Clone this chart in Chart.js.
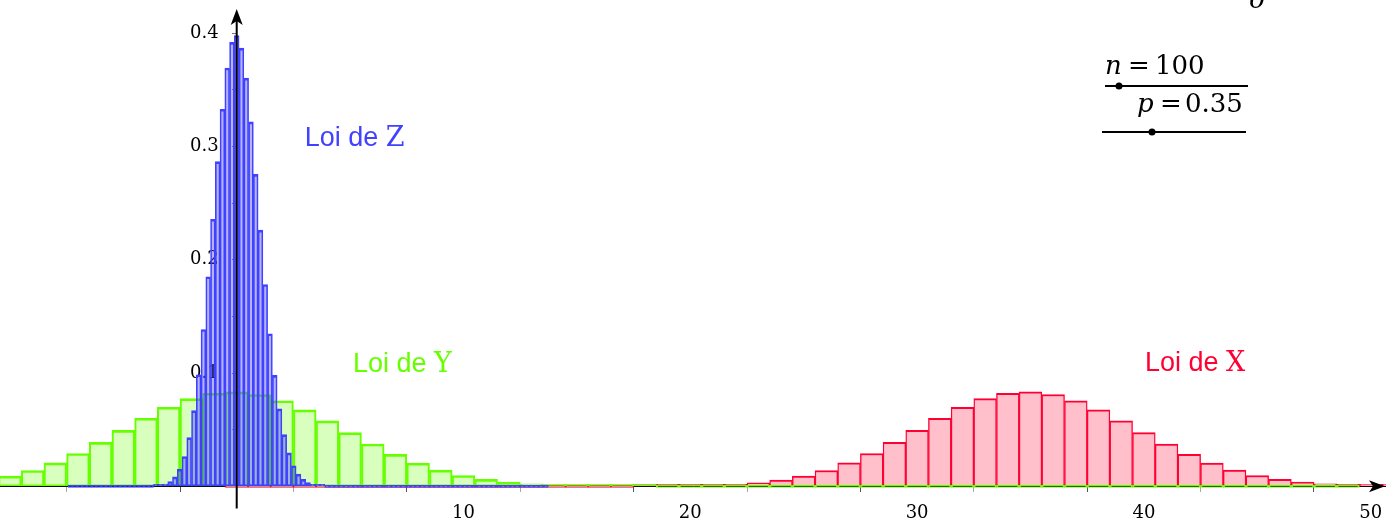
<!DOCTYPE html>
<html>
<head>
<meta charset="utf-8">
<script src="https://cdn.jsdelivr.net/npm/chart.js@4.4.1/dist/chart.umd.min.js"></script>
<style>
  html, body { margin: 0; padding: 0; background: #fff; }
  #c { display: block; }
</style>
</head>
<body>
<canvas id="c" width="1386" height="520"></canvas>
<script>
// values of k with a visible bar
const kValues = [18, 19, 20, 21, 22, 23, 24, 25, 26, 27, 28, 29, 30, 31, 32, 33, 34, 35,
  36, 37, 38, 39, 40, 41, 42, 43, 44, 45, 46, 47, 48, 49, 50, 51, 52, 53];

// P(X = k) (also the heights of the green bars)
const probX = [0.00009, 0.0002, 0.00044, 0.0009, 0.00175, 0.00319, 0.00551, 0.00901, 0.014,
  0.02066, 0.02901, 0.03878, 0.04942, 0.06009, 0.06977, 0.07741, 0.08214, 0.0834,
  0.08109, 0.07553, 0.06743, 0.05772, 0.0474, 0.03735, 0.02825, 0.02052, 0.01431,
  0.00959, 0.00618, 0.00382, 0.00227, 0.0013, 0.00071, 0.00038, 0.00019, 0.00009];

// heights of the blue (standardised) bars
const probZ = [0.00043, 0.00095, 0.0021, 0.0043, 0.0083, 0.0152, 0.0263, 0.043, 0.0668,
  0.0985, 0.1384, 0.185, 0.2357, 0.2866, 0.3328, 0.3692, 0.3918, 0.3978,
  0.3868, 0.3603, 0.3216, 0.2753, 0.2261, 0.1781, 0.1347, 0.0979, 0.0683,
  0.0457, 0.0295, 0.0182, 0.0108, 0.0062, 0.0034, 0.0018, 0.0009, 0.0004];

const nTrials = 100;
const pSuccess = 0.35;
const yShift = 35;        // Y = X - 35
const zBinWidth = 0.2097; // width of one Z bar
const yLastK = 84;        // last k of the green histogram
const xTicks = [10, 20, 30, 40, 50];
const yTicks = [0.1, 0.2, 0.3, 0.4];

function heightAt(list, k) {
  const i = kValues.indexOf(k);
  return i < 0 ? 0 : list[i];
}

const dataX = [];
const dataY = [];
const dataZ = [];
for (let k = 0; k <= nTrials; k++) {
  dataX.push({ x: k, y: heightAt(probX, k) });
  if (k <= yLastK) dataY.push({ x: k - yShift, y: heightAt(probX, k) });
  dataZ.push({ x: (k - yShift) * zBinWidth, y: heightAt(probZ, k) });
}

function thickness(width) {
  return (ctx) => {
    const s = ctx.chart.scales.x;
    return s.getPixelForValue(width) - s.getPixelForValue(0);
  };
}

const wideBorder = { top: 2, left: 1.4, right: 1.4, bottom: 1 };
const thinBorder = { top: 2, left: 1, right: 1, bottom: 1 };

function noPadding(scale) {
  scale.paddingLeft = 0;
  scale.paddingRight = 0;
  scale.paddingTop = 0;
  scale.paddingBottom = 0;
}

const serif = "'DejaVu Serif', serif";
const sans = "'Liberation Sans', Arial, sans-serif";

const overlay = {
  id: "overlay",
  afterDatasetsDraw(chart) {
    const { ctx } = chart;
    const sx = chart.scales.x;
    const sy = chart.scales.y;
    const x0 = sx.getPixelForValue(0);
    const y0 = sy.getPixelForValue(0);

    ctx.save();
    // y axis over the bars
    ctx.strokeStyle = "#000";
    ctx.fillStyle = "#000";
    ctx.lineWidth = 2;
    ctx.beginPath();
    ctx.moveTo(x0, sy.getPixelForValue(-0.0195));
    ctx.lineTo(x0, 16);
    ctx.stroke();
    ctx.beginPath();
    ctx.moveTo(x0, 9);
    ctx.lineTo(x0 - 6, 25);
    ctx.lineTo(x0, 21);
    ctx.lineTo(x0 + 6, 25);
    ctx.closePath();
    ctx.fill();
    // x axis arrow
    const xr = chart.width - 1;
    ctx.beginPath();
    ctx.moveTo(xr, y0);
    ctx.lineTo(xr - 16, y0 - 6);
    ctx.lineTo(xr - 12, y0);
    ctx.lineTo(xr - 16, y0 + 6);
    ctx.closePath();
    ctx.fill();

    // "Loi de ..." labels
    const labels = [
      { letter: "Z", x: 3.0, y: 0.3, color: "#4141ff" },
      { letter: "Y", x: 5.13, y: 0.1009, color: "#66ff00" },
      { letter: "X", x: 40.05, y: 0.1018, color: "#ff0033" },
    ];
    ctx.textBaseline = "alphabetic";
    ctx.textAlign = "left";
    labels.forEach((l) => {
      const px = sx.getPixelForValue(l.x);
      const py = sy.getPixelForValue(l.y);
      ctx.fillStyle = l.color;
      ctx.font = "27px " + sans;
      const w = ctx.measureText("Loi de ").width;
      ctx.fillText("Loi de ", px, py);
      ctx.font = "27px " + serif;
      ctx.fillText(l.letter, px + w, py);
    });

    // sliders n and p
    ctx.fillStyle = "#000";
    ctx.font = "italic 26px " + serif;
    ctx.fillText("σ", 1249, 8);
    ctx.fillText("n", 1105, 74);
    ctx.fillText("p", 1137, 112);
    ctx.font = "26px " + serif;
    ctx.fillText("=", 1128, 74);
    ctx.fillText(String(nTrials), 1155, 74);
    ctx.fillText("=", 1160, 112);
    ctx.fillText(String(pSuccess), 1185, 112);

    ctx.lineWidth = 2;
    ctx.beginPath();
    ctx.moveTo(1105, 86);
    ctx.lineTo(1248, 86);
    ctx.moveTo(1102, 132);
    ctx.lineTo(1246, 132);
    ctx.stroke();
    ctx.beginPath();
    ctx.arc(1119, 86, 3.5, 0, Math.PI * 2);
    ctx.arc(1152, 132, 3.5, 0, Math.PI * 2);
    ctx.fill();
    ctx.restore();
  },
};

const config = {
  type: "bar",
  data: {
    datasets: [
      {
        label: "Loi de Z",
        data: dataZ,
        backgroundColor: "rgba(65, 65, 255, 0.4)",
        borderColor: "#4141ff",
        borderWidth: thinBorder,
        borderSkipped: false,
        barThickness: thickness(zBinWidth),
        minBarLength: 2,
        grouped: false,
      },
      {
        label: "Loi de Y",
        data: dataY,
        backgroundColor: "rgba(102, 255, 0, 0.25)",
        borderColor: "#66ff00",
        borderWidth: wideBorder,
        borderSkipped: false,
        barThickness: thickness(1),
        minBarLength: 2,
        grouped: false,
      },
      {
        label: "Loi de X",
        data: dataX,
        backgroundColor: "#ffc0cb",
        borderColor: "#ff0033",
        borderWidth: wideBorder,
        borderSkipped: false,
        barThickness: thickness(1),
        minBarLength: 2,
        grouped: false,
      },
    ],
  },
  options: {
    responsive: false,
    animation: false,
    devicePixelRatio: 1,
    layout: { padding: 0 },
    scales: {
      x: {
        type: "linear",
        min: -10.437,
        max: 50.675,
        offset: false,
        position: { y: 0 },
        afterFit: noPadding,
        border: { display: true, color: "#000", width: 1 },
        grid: {
          drawOnChartArea: false,
          tickLength: 5,
          color: (c) => (c.tick && c.tick.value % 10 === 0 ? "#555" : "#aaa"),
        },
        ticks: {
          stepSize: 5,
          includeBounds: false,
          autoSkip: false,
          maxRotation: 0,
          padding: 11,
          color: "#000",
          font: { family: serif, size: 18 },
          callback: (v) => (xTicks.includes(v) ? String(v) : ""),
        },
      },
      y: {
        type: "linear",
        min: -0.0297,
        max: 0.4292,
        position: { x: 0 },
        afterFit: noPadding,
        border: { display: false },
        grid: { drawOnChartArea: false, tickLength: 5, color: "#777" },
        ticks: {
          stepSize: 0.05,
          includeBounds: false,
          autoSkip: false,
          padding: 8,
          color: "#000",
          font: { family: serif, size: 18 },
          // the label sits right against the axis, the spaces keep it clear of it
          callback: (v) => {
            const t = yTicks.find((y) => Math.abs(y - v) < 1e-6);
            return t ? t.toFixed(1) + "\u2002\u2002" : "";
          },
        },
      },
    },
    plugins: {
      legend: { display: false },
      tooltip: { enabled: false },
    },
  },
  plugins: [overlay],
};

new Chart(document.getElementById("c"), config);
</script>
</body>
</html>
